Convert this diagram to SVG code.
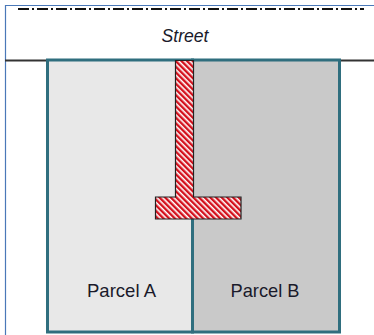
<svg xmlns="http://www.w3.org/2000/svg" width="374" height="335" viewBox="0 0 374 335">
<style>
.frame{stroke:#4a78b8;stroke-width:1.2;fill:none}
.lbl{font-family:"Liberation Sans",Arial,sans-serif;font-size:19px;fill:#1a1a2a;text-anchor:middle}
.parcel{stroke:#2f6e7e;stroke-width:3}
</style>
<defs>
<pattern id="hatch" width="4" height="4" patternUnits="userSpaceOnUse" patternTransform="rotate(-45)">
<rect width="4" height="4" fill="#ffffff"/>
<rect width="2.4" height="4" fill="#d4101c"/>
</pattern>
</defs>
<rect width="374" height="335" fill="#ffffff"/>
<g id="frame">
<line class="frame" x1="5" y1="5.5" x2="374" y2="5.5"/>
<line class="frame" x1="5.5" y1="5" x2="5.5" y2="335"/>
</g>
<g id="street">
<line x1="18" y1="9" x2="364" y2="9" stroke="#111" stroke-width="2" stroke-dasharray="11 3 2 3"/>
<text x="185" y="42" class="lbl" font-style="italic" textLength="47" lengthAdjust="spacingAndGlyphs">Street</text>
<line x1="5" y1="60.5" x2="374" y2="60.5" stroke="#333" stroke-width="2"/>
</g>
<g id="parcelA">
<rect class="parcel" x="47.5" y="60" width="145" height="272" fill="#e8e8e8"/>
<text x="121.5" y="297" class="lbl" textLength="69" lengthAdjust="spacingAndGlyphs">Parcel A</text>
</g>
<g id="parcelB">
<rect class="parcel" x="192.5" y="60" width="147" height="272" fill="#c9c9c9"/>
<text x="265" y="297" class="lbl" textLength="69" lengthAdjust="spacingAndGlyphs">Parcel B</text>
</g>
<g id="driveway">
<path d="M175.5 60.5 H193.5 V197 H241 V219 H155.5 V197 H175.5 Z" fill="url(#hatch)" stroke="#222" stroke-width="1.2"/>
</g>
</svg>
